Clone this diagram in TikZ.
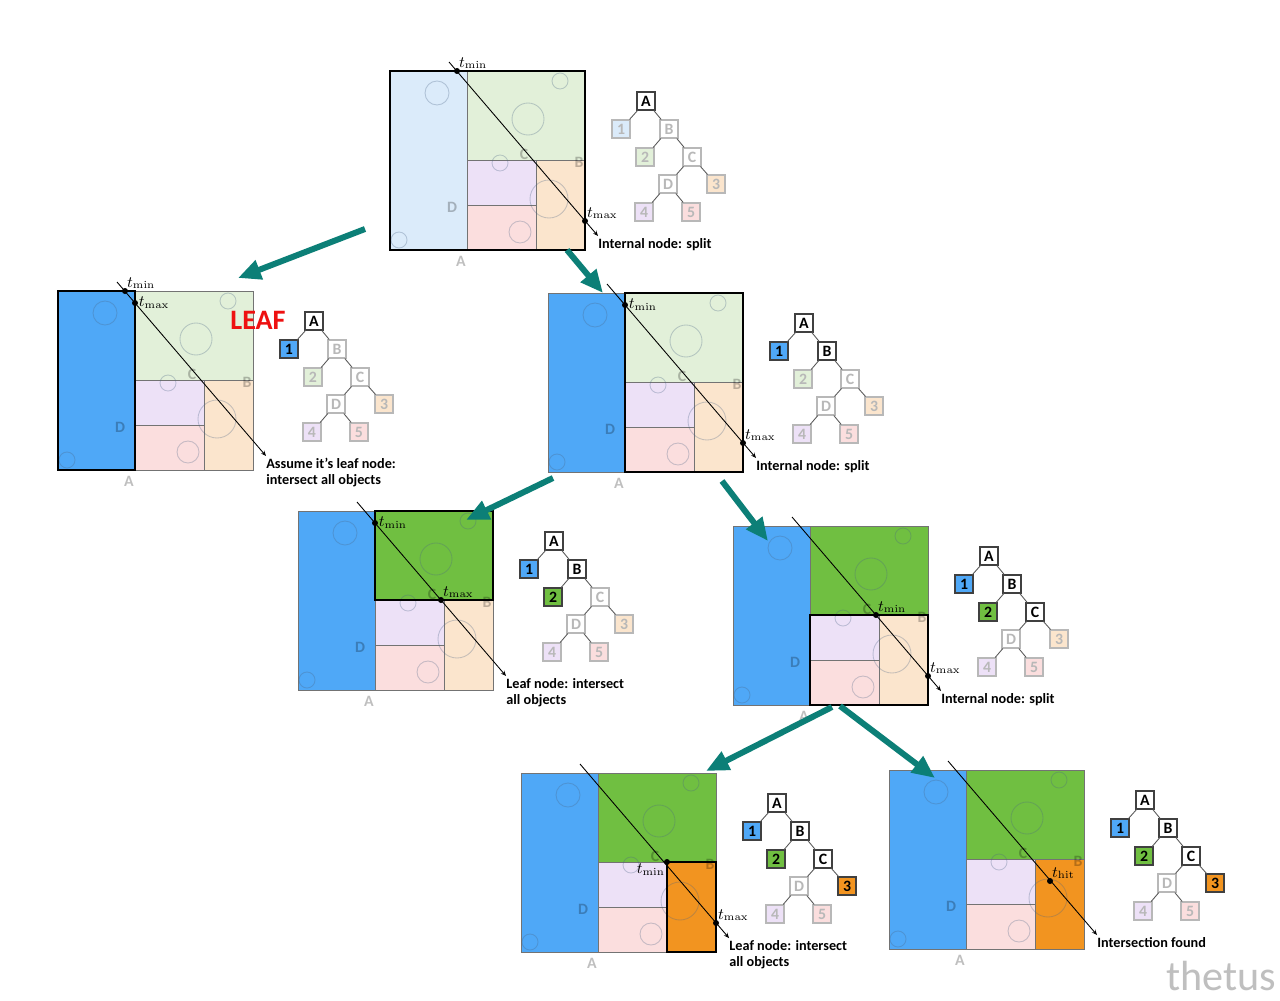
\documentclass[tikz,border=0pt]{standalone}
\usepackage[no-math]{fontspec}
\setmainfont{Carlito}
\usetikzlibrary{arrows.meta,positioning}

\definecolor{blueF}{HTML}{4FA8F7}
\definecolor{blueP}{HTML}{DBEBFA}
\definecolor{greenF}{HTML}{70BF41}
\definecolor{greenP}{HTML}{E2F0D9}
\definecolor{orangeF}{HTML}{F29420}
\definecolor{orangeP}{HTML}{FBE5CD}
\definecolor{purpleF}{HTML}{EDE1F7}
\definecolor{purpleP}{HTML}{EDE1F7}
\definecolor{pinkF}{HTML}{FBDEDE}
\definecolor{pinkP}{HTML}{FBDEDE}
\colorlet{whiteF}{white}
\colorlet{whiteP}{white}
\definecolor{arrowteal}{HTML}{0C7F77}
\definecolor{leafred}{HTML}{EE1111}
\definecolor{blobgrey}{HTML}{4A6485}

\tikzset{
  region/.style={draw=black!55, line width=0.5pt},
  rfill/.code 2 args={\ifnum\kdlevel>#1\relax\pgfkeysalso{/tikz/fill=#2F}\else\pgfkeysalso{/tikz/fill=#2P}\fi},
  blob/.style={draw=blobgrey, draw opacity=0.3, line width=0.5pt},
  faint/.style={text=black, text opacity=0.25, inner sep=0pt, font=\fontsize{9}{9}\selectfont\bfseries},
  ray/.style={line width=0.5pt, -{Stealth[length=3pt,width=2.5pt]}},
  hilite/.style={draw=black, line width=1.2pt},
  hit/.style={fill=black},
  tlabel/.style={font=\fontsize{9}{10}\selectfont, inner sep=1pt},
  tbox/.style={minimum size=0.36cm, inner sep=0pt, line width=0.6pt, font=\fontsize{9}{9}\selectfont\bfseries},
  tstate/.code 2 args={\ifnum\kdlevel>#1\relax\pgfkeysalso{/tikz/tbox,/tikz/draw=black!75,/tikz/fill=#2F,/tikz/text=black}\else\pgfkeysalso{/tikz/tbox,/tikz/draw=black!28,/tikz/fill=#2P,/tikz/text=black!28}\fi},
  tedge/.style={draw=black!65, line width=0.5pt},
  caption/.style={anchor=north west, inner sep=0pt, align=left, font=\fontsize{8.1}{9.1}\selectfont\bfseries},
  descend/.style={line width=3.4pt, draw=arrowteal, -{Triangle[length=13pt,width=11pt]}},
}

% one panel: name, origin, level, extra drawing
\newcommand{\kdpanel}[4]{%
  \begin{scope}[shift={#2}]
    \def\kdlevel{#3}
    % cells
    \draw[region, rfill={1}{blue}] (0,0) rectangle (77,179);
    \draw[region, rfill={3}{green}] (77,0) rectangle (195,89);
    \draw[region, rfill={9}{purple}] (77,89) rectangle (146,134);
    \draw[region, rfill={9}{pink}] (77,134) rectangle (146,179);
    \draw[region, rfill={5}{orange}] (146,89) rectangle (195,179);
    % objects
    \foreach \cx/\cy/\rad in {47/22/12, 170/10/8, 138/48/16, 110/92/8, 159/128/19, 130/161/11, 9/169/8}
      \draw[blob] (\cx,\cy) circle[radius=\rad];
    % split planes
    \node[faint] (#1-D) at (62,136) {D};
    \node[faint] (#1-C) at (134,83) {C};
    \node[faint] (#1-B) at (189,91) {B};
    \node[faint] (#1-A) at (71,190) {A};
    % ray
    \coordinate (#1-rs) at (59,-9);
    \coordinate (#1-re) at (208,165);
    \draw[ray] (#1-rs) -- (#1-re);
    % tree
    \node[tstate={0}{white}] (#1-tA) at (256,30) {A};
    \node[tstate={1}{blue}] (#1-t1) at (231,58) {1};
    \node[tstate={2}{white}] (#1-tB) at (279,58) {B};
    \node[tstate={3}{green}] (#1-t2) at (255,86) {2};
    \node[tstate={4}{white}] (#1-tC) at (302,86) {C};
    \node[tstate={9}{white}] (#1-tD) at (278,113) {D};
    \node[tstate={5}{orange}] (#1-t3) at (326,113) {3};
    \node[tstate={9}{purple}] (#1-t4) at (254,141) {4};
    \node[tstate={9}{pink}] (#1-t5) at (301,141) {5};
    \draw[tedge] (#1-tA) -- (#1-t1) (#1-tA) -- (#1-tB)
      (#1-tB) -- (#1-t2) (#1-tB) -- (#1-tC)
      (#1-tC) -- (#1-tD) (#1-tC) -- (#1-t3)
      (#1-tD) -- (#1-t4) (#1-tD) -- (#1-t5);
    #4
  \end{scope}}

\begin{document}
\begin{tikzpicture}[x=0.02cm, y=-0.02cm]
    \fill[white] (0,0) rectangle (1280,1000);
    \useasboundingbox (0,0) rectangle (1280,1000);

    % root
    \kdpanel{p1}{(390,71)}{1}{
      \draw[hilite] (0,0) rectangle (195,179);
      \coordinate (p1-tmin) at (67,0);
      \coordinate (p1-tmax) at (195,150);
      \fill[hit] (p1-tmin) circle[radius=3];
      \fill[hit] (p1-tmax) circle[radius=3];
      \node[tlabel, above right=0pt of p1-tmin] (p1-lmin) {$t_{\min}$};
      \node[tlabel, above right=0pt of p1-tmax] (p1-lmax) {$t_{\max}$};
      \node[caption] (p1-cap) at (208,167) {Internal node: split};
    }

    % left child
    \kdpanel{p2}{(58,291)}{2}{
      \draw[hilite] (0,0) rectangle (77,179);
      \coordinate (p2-tmin) at (67,0);
      \coordinate (p2-tmax) at (77,12);
      \fill[hit] (p2-tmin) circle[radius=3];
      \fill[hit] (p2-tmax) circle[radius=3];
      \node[tlabel, above right=0pt of p2-tmin] (p2-lmin) {$t_{\min}$};
      \node[tlabel, right=1pt of p2-tmax] (p2-lmax) {$t_{\max}$};
      \node[text=leafred, inner sep=0pt, font=\fontsize{16}{16}\selectfont\bfseries] (p2-leaf) at (200,29) {LEAF};
      \node[caption] (p2-cap) at (208,167) {Assume it’s leaf node:\\intersect all objects};
    }

    % right child
    \kdpanel{p3}{(548,293)}{3}{
      \draw[hilite] (77,0) rectangle (195,179);
      \coordinate (p3-tmin) at (77,12);
      \coordinate (p3-tmax) at (195,150);
      \fill[hit] (p3-tmin) circle[radius=3];
      \fill[hit] (p3-tmax) circle[radius=3];
      \node[tlabel, right=1pt of p3-tmin] (p3-lmin) {$t_{\min}$};
      \node[tlabel, above right=0pt of p3-tmax] (p3-lmax) {$t_{\max}$};
      \node[caption] (p3-cap) at (208,167) {Internal node: split};
    }

    % green leaf
    \kdpanel{p4}{(298,511)}{4}{
      \draw[hilite] (77,0) rectangle (195,89);
      \coordinate (p4-tmin) at (77,12);
      \coordinate (p4-tmax) at (143,89);
      \fill[hit] (p4-tmin) circle[radius=3];
      \fill[hit] (p4-tmax) circle[radius=3];
      \node[tlabel, right=1pt of p4-tmin] (p4-lmin) {$t_{\min}$};
      \node[tlabel, above right=0pt of p4-tmax] (p4-lmax) {$t_{\max}$};
      \node[caption] (p4-cap) at (208,167) {Leaf node: intersect\\all objects};
    }

    % node C
    \kdpanel{p5}{(733,526)}{5}{
      \draw[hilite] (77,89) rectangle (195,179);
      \coordinate (p5-tmin) at (143,89);
      \coordinate (p5-tmax) at (195,150);
      \fill[hit] (p5-tmin) circle[radius=3];
      \fill[hit] (p5-tmax) circle[radius=3];
      \node[tlabel, above right=0pt of p5-tmin] (p5-lmin) {$t_{\min}$};
      \node[tlabel, above right=0pt of p5-tmax] (p5-lmax) {$t_{\max}$};
      \node[caption] (p5-cap) at (208,167) {Internal node: split};
    }

    % orange leaf
    \kdpanel{p6}{(521,773)}{6}{
      \draw[hilite] (146,89) rectangle (195,179);
      \coordinate (p6-tmin) at (146,89);
      \coordinate (p6-tmax) at (195,150);
      \fill[hit] (p6-tmin) circle[radius=3];
      \fill[hit] (p6-tmax) circle[radius=3];
      \node[tlabel, below left=0pt of p6-tmin] (p6-lmin) {$t_{\min}$};
      \node[tlabel, above right=0pt of p6-tmax] (p6-lmax) {$t_{\max}$};
      \node[caption] (p6-cap) at (208,167) {Leaf node: intersect\\all objects};
    }

    % hit
    \kdpanel{p7}{(889,770)}{6}{
      \coordinate (p7-thit) at (161,111);
      \fill[hit] (p7-thit) circle[radius=3];
      \node[tlabel, above right=0pt of p7-thit] (p7-lhit) {$t_{\mathrm{hit}}$};
      \node[caption] (p7-cap) at (208,167) {Intersection found};
    }

    % traversal arrows
    \coordinate (a1s) at (365,229); \coordinate (a1e) at (238,278);
    \coordinate (a2s) at (567,250); \coordinate (a2e) at (603,293);
    \coordinate (a3s) at (553,478); \coordinate (a3e) at (466,520);
    \coordinate (a4s) at (722,481); \coordinate (a4e) at (768,541);
    \coordinate (a5s) at (832,707); \coordinate (a5e) at (706,771);
    \coordinate (a6s) at (840,706); \coordinate (a6e) at (935,778);
    \foreach \i in {1,...,6}
      \draw[descend] (a\i s) -- (a\i e);

    \node[text=black!25, inner sep=0pt, font=\fontsize{24}{24}\selectfont] (mark) at (1221,976) {thetus};
\end{tikzpicture}
\end{document}
